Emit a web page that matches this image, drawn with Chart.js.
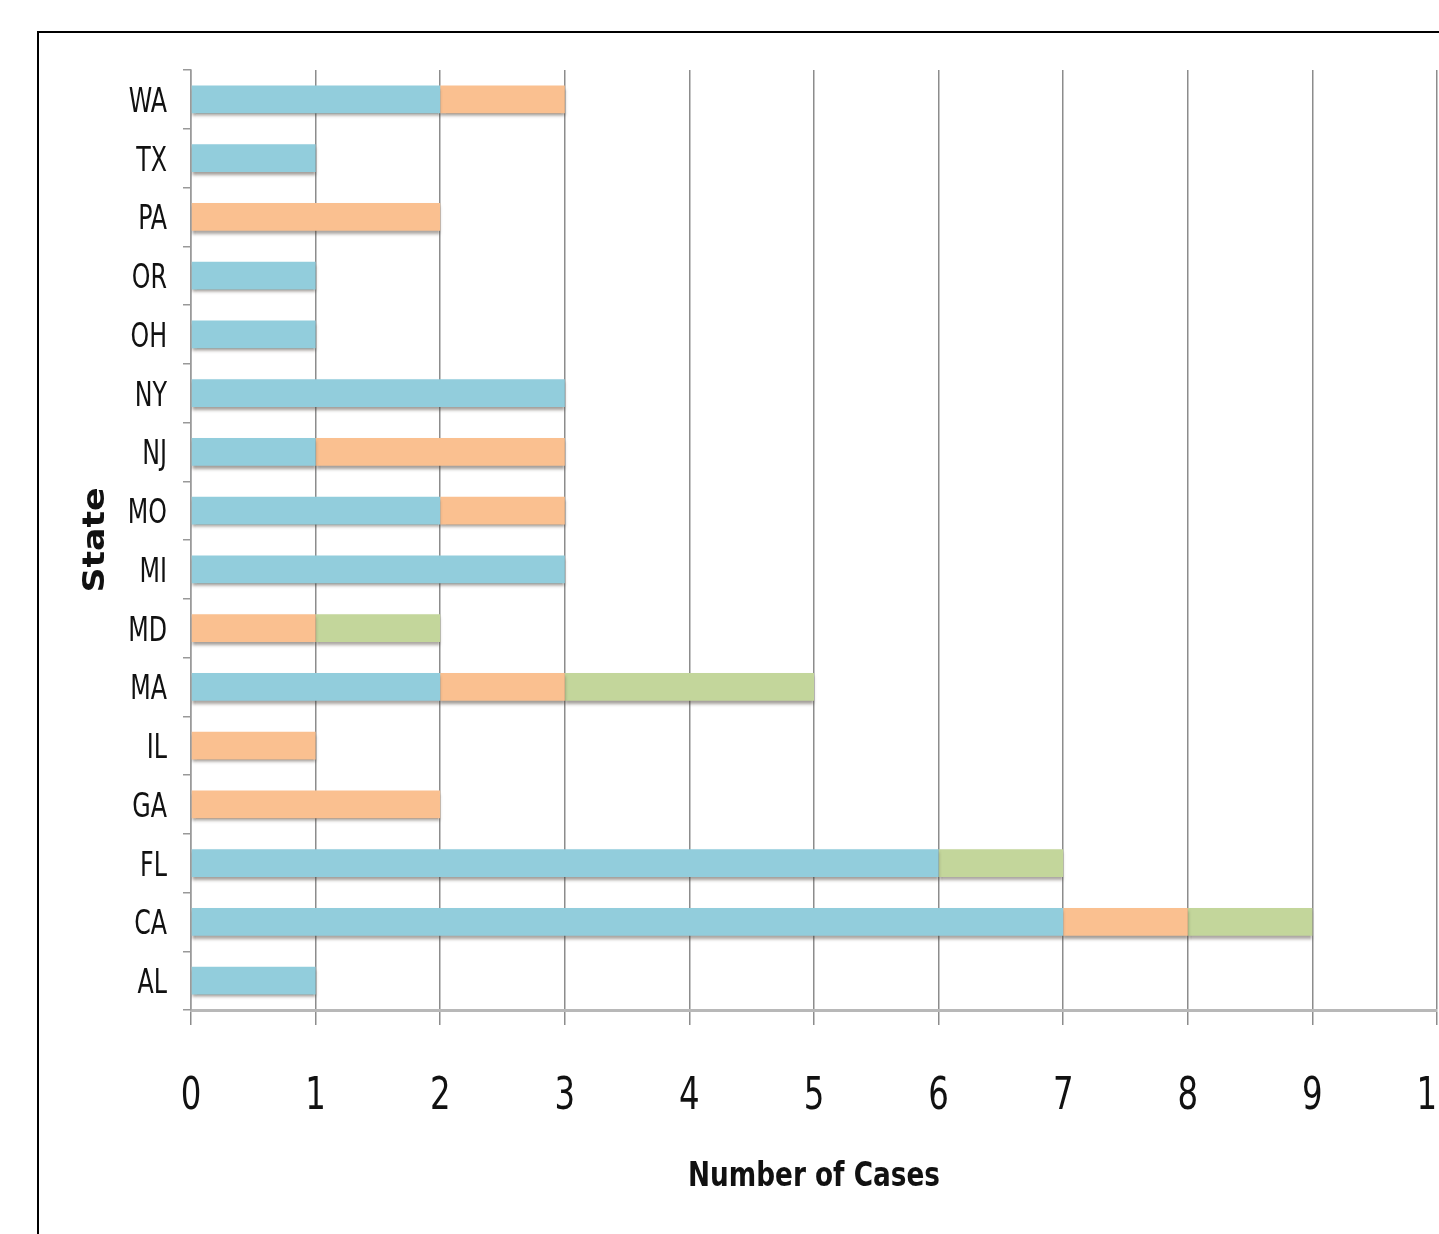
<!DOCTYPE html>
<html>
<head>
<meta charset="utf-8">
<title>Cases by State</title>
<script src="https://cdn.jsdelivr.net/npm/chart.js@4.4.1/dist/chart.umd.min.js"></script>
<style>
  html, body { margin: 0; padding: 0; background: #ffffff; overflow: hidden; width: 1439px; height: 1234px; }
  #chart { position: absolute; left: 0; top: 0; }
  #frame { position: absolute; left: 37px; top: 31px; width: 2000px; height: 2000px;
           border: 2px solid #000; box-sizing: border-box; pointer-events: none; }
</style>
</head>
<body>
<canvas id="chart" width="1500" height="1234"></canvas>
<div id="frame"></div>
<script>
// States, listed alphabetically (AL is drawn at the bottom)
const states = ['AL', 'CA', 'FL', 'GA', 'IL', 'MA', 'MD', 'MI', 'MO', 'NJ', 'NY', 'OH', 'OR', 'PA', 'TX', 'WA'];

// Case counts per state for each stacked series
const series1 = [1, 7, 6, 0, 0, 2, 0, 3, 2, 1, 3, 1, 1, 0, 1, 2];
const series2 = [0, 1, 0, 2, 1, 1, 1, 0, 1, 2, 0, 0, 0, 2, 0, 1];
const series3 = [0, 1, 1, 0, 0, 2, 1, 0, 0, 0, 0, 0, 0, 0, 0, 0];

// Value axis ticks
const xTicks = [0, 1, 2, 3, 4, 5, 6, 7, 8, 9, 10];

const narrow = "'DejaVu Sans Condensed', 'DejaVu Sans', sans-serif";
const wide = "Verdana, 'DejaVu Sans', sans-serif";

// Horizontal text stretch per font: narrow labels are squeezed, the wide title is widened
function stretchFor(font) {
  if (font.includes('Condensed')) return font.includes('bold') ? 0.86 : 0.8;
  if (font.includes('Verdana')) return 1.12;
  return 1;
}

const textStretch = {
  id: 'textStretch',
  beforeInit(chart) {
    const ctx = chart.ctx;
    const fill = ctx.fillText.bind(ctx);
    ctx.fillText = function (text, x, y, maxWidth) {
      const k = stretchFor(ctx.font);
      if (k === 1) {
        return maxWidth === undefined ? fill(text, x, y) : fill(text, x, y, maxWidth);
      }
      ctx.save();
      ctx.translate(x, y);
      ctx.scale(k, 1);
      if (maxWidth === undefined) fill(text, 0, 0); else fill(text, 0, 0, maxWidth / k);
      ctx.restore();
    };
  }
};

// Soft drop shadow under each bar segment
const barShadow = {
  id: 'barShadow',
  beforeDatasetsDraw(chart) {
    const ctx = chart.ctx;
    ctx.save();
    ctx.shadowColor = 'rgba(70,60,50,0.5)';
    ctx.shadowBlur = 3;
    ctx.shadowOffsetY = 3;
  },
  afterDatasetsDraw(chart) {
    chart.ctx.restore();
  }
};

new Chart(document.getElementById('chart'), {
  type: 'bar',
  data: {
    labels: states,
    datasets: [
      { label: 'Series 1', data: series1, backgroundColor: '#92cddc' },
      { label: 'Series 2', data: series2, backgroundColor: '#fac090' },
      { label: 'Series 3', data: series3, backgroundColor: '#c3d69b' }
    ]
  },
  options: {
    indexAxis: 'y',
    responsive: false,
    animation: false,
    devicePixelRatio: 1,
    layout: { padding: { top: 70, right: 63, bottom: 0, left: 0 } },
    datasets: { bar: { barPercentage: 0.47, categoryPercentage: 1.0, borderWidth: 0 } },
    plugins: { legend: { display: false }, tooltip: { enabled: false } },
    scales: {
      x: {
        stacked: true,
        min: 0,
        max: 10,
        afterBuildTicks(scale) { scale.ticks = xTicks.map(v => ({ value: v })); },
        afterFit(scale) {
          scale.height = 224;
          scale.paddingLeft = 0;
          scale.paddingRight = 0;
        },
        grid: { color: '#8c8c8c', lineWidth: 1.5, tickLength: 15, tickColor: '#8c8c8c' },
        border: { display: true, color: '#b8b8b8', width: 3 },
        ticks: { color: '#111', padding: 45, font: { family: narrow, size: 45 } },
        title: {
          display: true, text: 'Number of Cases', color: '#111',
          font: { family: narrow, size: 34, weight: 'bold' },
          padding: { top: 0, bottom: 36 }
        }
      },
      y: {
        stacked: true,
        reverse: true,
        afterFit(scale) { scale.width = 191; },
        grid: { drawOnChartArea: false, tickLength: 8, color: '#999', lineWidth: 1.5 },
        border: { display: true, color: '#9a9a9a', width: 1.5 },
        ticks: { color: '#111', padding: 16, labelOffset: 4, font: { family: narrow, size: 33 } },
        title: {
          display: true, text: 'State', color: '#111',
          font: { family: wide, size: 31, weight: 'bold' },
          padding: { top: 77, bottom: 0 }
        }
      }
    }
  },
  plugins: [textStretch, barShadow]
});
</script>
</body>
</html>
